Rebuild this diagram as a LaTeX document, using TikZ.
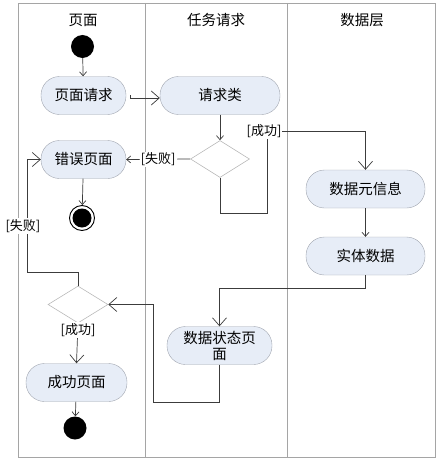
\documentclass[tikz,border=0pt]{standalone}
\usepackage{fontspec}
\setmainfont{Noto Sans CJK SC}
\usetikzlibrary{arrows.meta,shapes.geometric}
\definecolor{actfill}{RGB}{231,237,247}
\definecolor{actline}{RGB}{160,165,175}
\definecolor{laneline}{RGB}{165,165,165}
\definecolor{conn}{RGB}{60,60,60}
\definecolor{decline}{RGB}{185,185,185}
\tikzset{
  act/.style={draw=actline, fill=actfill, rounded corners=18.5pt, minimum height=38pt, inner sep=0pt, font=\fontsize{14.5}{16}\selectfont},
  dec/.style={diamond, draw=decline, minimum width=59pt, minimum height=37pt, inner sep=0pt, line width=0.6pt},
  lane/.style={draw=laneline, line width=0.8pt},
  title/.style={font=\fontsize{14.5}{16}\selectfont},
  conn/.style={draw=conn, line width=0.7pt},
  big/.style={conn, -{Straight Barb[length=8pt,width=14pt,line width=0.7pt]}},
  small/.style={conn, -{Straight Barb[length=4pt,width=7pt,line width=0.7pt]}},
  guard/.style={fill=white, inner sep=1pt, font=\fontsize{13}{15}\selectfont},
  startdot/.style={circle, fill=black, minimum size=23pt, inner sep=0pt},
}
\begin{document}
\begin{tikzpicture}[x=1pt,y=-1pt]
\useasboundingbox (0,0) rectangle (437,460);
% swimlanes
\draw[lane] (18,3) rectangle (435,457);
\draw[lane] (145,3) -- (145,457);
\draw[lane] (287,3) -- (287,457);
\node[title] (t1) at (83,20) {页面};
\node[title] (t2) at (216,20) {任务请求};
\node[title] (t3) at (362,20) {数据层};

% nodes
\node[startdot] (start) at (82.5,46.5) {};
\node[act, minimum width=85pt] (req) at (83.5,95.5) {页面请求};
\node[act, minimum width=120pt] (cls) at (220,95.5) {请求类};
\node[dec] (d1) at (220,159) {};
\node[act, minimum width=85pt] (err) at (83.5,159.5) {错误页面};
\node[circle, draw=black, line width=0.9pt, minimum size=25pt, inner sep=0pt] (endA) at (82,218) {};
\node[circle, fill=black, minimum size=19pt, inner sep=0pt] (endAin) at (endA) {};
\node[act, minimum width=119pt] (meta) at (365.5,189) {数据元信息};
\node[act, minimum width=119pt] (ent) at (365.5,256) {实体数据};
\node[act, minimum width=105pt, align=center, font=\fontsize{14.5}{19}\selectfont] (dsp) at (219.5,345.5) {数据状态页\\[-3pt]面};
\node[dec, minimum width=60pt] (d2) at (78,304.5) {};
\node[act, minimum width=101pt] (ok) at (76.5,382.5) {成功页面};
\node[startdot] (endB) at (75,428) {};

% connectors
\draw[small] (start) -- (req);
\coordinate (reqout) at (130,95);
\coordinate (reqjog) at (130,98);
\draw[big] (reqout) -- (reqjog) -- (cls.west |- reqjog);
\draw[small] (cls) -- (d1);
\draw[small] (d1.west) -- node[guard] (g1) {[失败]} (err.east);
\draw[small] (err) -- (endA);
\coordinate (p1) at (220,213);
\coordinate (p2) at (267,213);
\coordinate (p3) at (267,131);
\coordinate (p4) at (365.5,131);
\draw[big] (d1.south) -- (p1) -- (p2) -- (p3) -- (p4) -- (meta.north);
\node[guard] (g2) at (264,131) {[成功]};
\draw[small] (meta) -- (ent);
\coordinate (q1) at (365.5,288);
\coordinate (q2) at (219.5,288);
\draw[big] (ent.south) -- (q1) -- (q2) -- (dsp.north);
\coordinate (r1) at (219.5,402);
\coordinate (r2) at (153,402);
\coordinate (r3) at (153,304.5);
\draw[big] (dsp.south) -- (r1) -- (r2) -- (r3) -- (d2.east);
\coordinate (s1) at (78,272);
\coordinate (s2) at (27,272);
\coordinate (s3) at (27,159.5);
\draw[big] (d2.north) -- (s1) -- (s2) -- (s3) -- (err.west);
\node[guard] (g3) at (23,226) {[失败]};
\draw[big] (d2.south) -- (ok.north);
\node[guard] (g4) at (78,330) {[成功]};
\draw[small] (ok) -- (endB);
\end{tikzpicture}
\end{document}
